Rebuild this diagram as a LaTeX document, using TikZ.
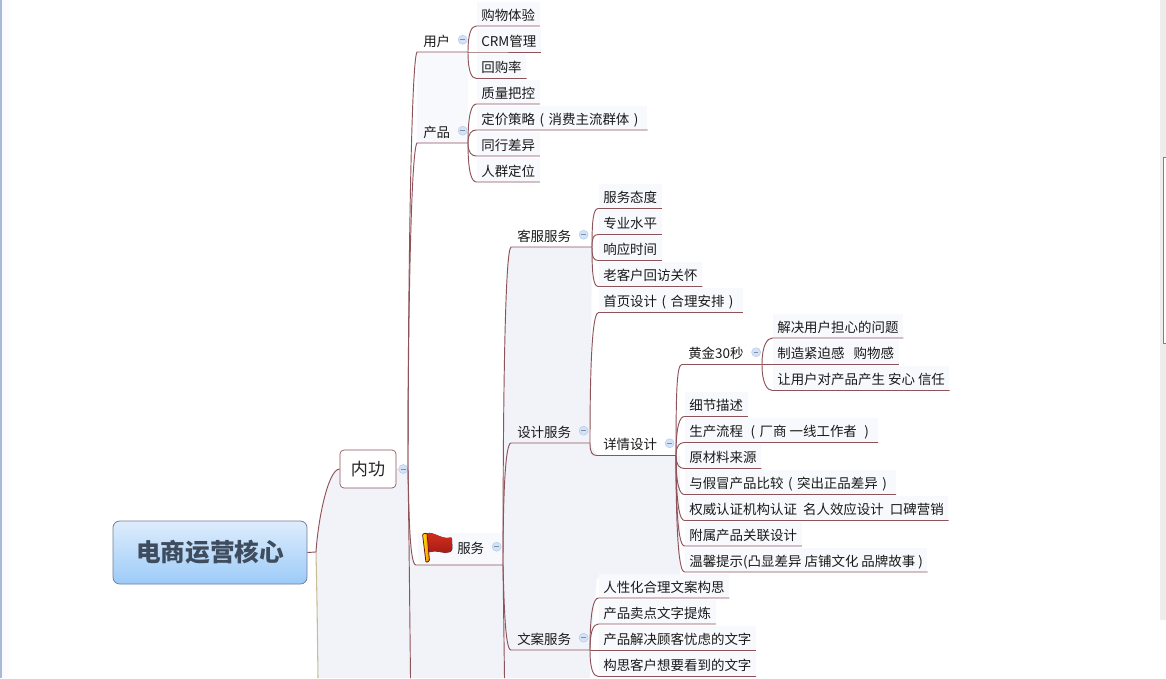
\documentclass[tikz,border=0pt]{standalone}
\usepackage{fontspec}
\setmainfont{Noto Sans CJK SC}
\usetikzlibrary{calc,positioning}
\definecolor{branchred}{HTML}{8E5259}
\definecolor{trunktan}{HTML}{C9BD94}
\definecolor{palebg}{HTML}{F1F3F9}
\definecolor{rowbg}{HTML}{F8F9FC}
\definecolor{foldblue}{HTML}{D3E2F6}
\definecolor{foldedge}{HTML}{B7CDEB}
\definecolor{roottop}{HTML}{DEEDFC}
\definecolor{rootbot}{HTML}{9CCBF8}
\definecolor{rootedge}{HTML}{6E8096}
\definecolor{rootink}{HTML}{3E4C5E}
\definecolor{flaghi}{HTML}{D8301E}
\definecolor{flaglo}{HTML}{A01A14}
\newcommand{\lpar}{\hbox to 1em{\hss(\hss}}
\newcommand{\rpar}{\hbox to 1em{\hss)\hss}}
\newcommand{\twig}[2]{\draw [branchline] (#1) .. controls ($(#1)!.75!(#1 |- #2.south west)$) and ($(#2.south west)+(-5,0)$) .. (#2.south west) -- (#2.south east);}
\tikzset{
  leaf/.style={anchor=south west, inner xsep=3.4pt, inner ysep=0pt, minimum height=18pt,
               text height=10.7pt, text depth=1pt, fill=rowbg, text=black!90,
               font=\fontsize{10.1pt}{12pt}\selectfont},
  branch/.style={leaf, inner xsep=4.5pt, fill=none},
  foldbtn/.style={circle, minimum size=6.75pt, inner sep=0pt, fill=foldblue, draw=foldedge, line width=.4pt,
                  path picture={\draw[foldedge!70!black, line width=.4pt]
                    ([xshift=1.6pt]path picture bounding box.west) -- ([xshift=-1.6pt]path picture bounding box.east);}},
  branchline/.style={draw=branchred, line width=.7pt},
}
\begin{document}
\begin{tikzpicture}[x=.75pt,y=-.75pt]
  \useasboundingbox (0,0) rectangle (1166,678);
  % window edges
  \fill [white] (0,0) rectangle (1166,678);
  \fill [left color=blue!2, right color=white] (2,0) rectangle (12,678);
  \fill [color={rgb,255:red,168;green,184;blue,214}] (0,0) rectangle (2,678);
  \fill [black!7] (1160,0) rectangle (1166,620);
  \fill [white] (1164,157) rectangle (1166,343);
  \draw [black!50, line width=.6pt] (1166,157) -- (1163,157) -- (1163,343) -- (1166,343);
  % shaded parts behind the branches
  \fill [palebg] (340,469) .. controls (328,469) and (318,520) .. (316,552) -- (318,678)
        -- (505,678) -- (503,565) -- (416,565) .. controls (410,565) and (409,520) .. (408,469) -- cycle;
  \fill [palebg] (510,247) -- (592,247) -- (590,443) -- (597,456) -- (680,456) -- (680,578) -- (597,578)
        -- (590,650) -- (590,678) -- (505,678) -- (503,565) .. controls (503,400) and (505,250) .. (510,247) -- cycle;
  \fill [rowbg] (417,52) rectangle (468,143);
  \fill [rowbg] (418,533) rectangle (503,565);

  % root and first level
  \node [rounded corners=5pt, draw=rootedge, line width=.6pt, top color=roottop, bottom color=rootbot,
         minimum width=145.5pt, minimum height=47.25pt, text=rootink,
         font=\fontsize{18.5pt}{20pt}\selectfont\bfseries] (root) at (210,552.5) {电商运营核心};
  \node [rounded corners=3pt, draw=branchred, line width=.5pt, fill=white, minimum width=42pt, minimum height=28.5pt,
         inner sep=0pt, text=black!85, font=\fontsize{12.8pt}{14pt}\selectfont] (neigong) at (368,469) {内功};
  \node [foldbtn, right=1.6pt of neigong] (neigongf) {};
  \coordinate (rootj) at (316,552);
  \coordinate (rootend) at (318,678);
  \coordinate (neigongj) at (408,469);
  \coordinate (neigongend) at (410.5,678);

  % second level
  \node [branch] (yonghu) at (417,52) {用户};
  \node [foldbtn, right=1.1pt of yonghu] (yonghuf) {};
  \coordinate (yonghuj) at (468,52);
  \node [branch] (chanpin) at (417,143) {产品};
  \node [foldbtn, right=1.1pt of chanpin] (chanpinf) {};
  \coordinate (chanpinj) at (468,143);
  \node [branch, minimum height=27pt] (fuwu) at (451,565) {服务};
  \node [foldbtn, right=1.1pt of fuwu] (fuwuf) {};
  \coordinate (fuwus) at (416,565);
  \coordinate (fuwuj) at (503,565);
  \coordinate (fuwuend) at (504.5,678);

  % third level
  \node [branch] (kefu) at (511,247) {客服服务};
  \node [foldbtn, right=1.1pt of kefu] (kefuf) {};
  \coordinate (kefuj) at (592,247);
  \node [branch] (sheji) at (511,443) {设计服务};
  \node [foldbtn, right=1.1pt of sheji] (shejif) {};
  \coordinate (shejij) at (590,443);
  \node [branch] (wenan) at (511,650) {文案服务};
  \node [foldbtn, right=1.1pt of wenan] (wenanf) {};
  \coordinate (wenanj) at (590,650);
  \node [branch] (xiangqing) at (597,455.5) {详情设计};
  \node [foldbtn, right=1.1pt of xiangqing] (xiangqingf) {};
  \coordinate (xiangqingj) at (676,455.5);
  \node [branch] (huangjin) at (682,364.5) {黄金30秒};
  \node [foldbtn, right=1.1pt of huangjin] (huangjinf) {};
  \coordinate (huangjinj) at (762,364.5);

  % leaves
  \foreach \nm/\py/\txt in {gouwu/26/购物体验, crm/52/CRM管理, huigou/78.5/回购率,
                            zhiliang/104/质量把控, dingjia/130/定价策略\lpar 消费主流群体\rpar,
                            tonghang/156/同行差异, renqun/182/人群定位}
    \node [leaf] (\nm) at (476.5,\py) {\txt};
  \foreach \nm/\py/\txt in {taidu/208.5/服务态度, shuiping/234.5/专业水平, xiangying/260.5/响应时间,
                            huifang/286.5/老客户回访关怀, shouye/312.5/首页设计\lpar 合理安排\rpar,
                            gouxiang/598/人性化合理文案构思, maidian/624/产品卖点文字提炼,
                            youlv/650/产品解决顾客忧虑的文字, xiangkan/676.5/构思客户想要看到的文字}
    \node [leaf] (\nm) at (598.5,\py) {\txt};
  \foreach \nm/\py/\txt in {xijie/416.5/细节描述, liucheng/442.5/生产流程~\lpar 厂商 一线工作者~\rpar, yuanliao/468.5/原材料来源,
                            jiamao/494.5/与假冒产品比较\lpar 突出正品差异\rpar, quanwei/520.5/权威认证机构认证~~名人效应设计~~口碑营销,
                            fushu/546/附属产品关联设计, wenxin/572/温馨提示(凸显差异 店铺文化 品牌故事 )}
    \node [leaf] (\nm) at (684.5,\py) {\txt};
  \foreach \nm/\py/\txt in {danxin/338/解决用户担心的问题, jinpo/364.5/制造紧迫感~~~购物感, anxin/390.5/让用户对产品产生 安心 信任}
    \node [leaf] (\nm) at (772.5,\py) {\txt};

  % connectors
  \draw [branchline] (root.east) -- (rootj) .. controls (318,520) and (328,469) .. (neigong.west);
  \draw [draw=trunktan, line width=.8pt] (rootj) .. controls (317,600) .. (rootend);
  \draw [branchline, foldedge] (neigong.east) -- (neigongf.west);
  \draw [branchline] (neigongf.east) -- (neigongj);
  \draw [branchline] (neigongj) .. controls (408,300) and (411,60) .. (yonghu.south west) -- (yonghuj);
  \draw [branchline] (neigongj) .. controls (408,320) and (411,150) .. (chanpin.south west) -- (chanpinj);
  \draw [branchline] (neigongj) .. controls (409,520) and (410,565) .. (fuwus) -- (fuwuj);
  \draw [branchline] (neigongj) .. controls (409,540) .. (neigongend);
  \draw [branchline] (fuwuj) .. controls (503,400) and (505,250) .. (kefu.south west) -- (kefuj);
  \draw [branchline] (fuwuj) .. controls (503,500) and (505,443) .. (sheji.south west) -- (shejij);
  \draw [branchline] (fuwuj) .. controls (504,600) and (505,650) .. (wenan.south west) -- (wenanj);
  \draw [branchline] (fuwuj) -- (fuwuend);
  \twig{shejij}{xiangqing}
  \draw [branchline] (xiangqing.south east) -- (xiangqingj);
  \twig{xiangqingj}{huangjin}
  \draw [branchline] (huangjin.south east) -- (huangjinj);
  \foreach \nm in {gouwu,crm,huigou} {\twig{yonghuj}{\nm}}
  \foreach \nm in {zhiliang,dingjia,tonghang,renqun} {\twig{chanpinj}{\nm}}
  \foreach \nm in {taidu,shuiping,xiangying,huifang} {\twig{kefuj}{\nm}}
  \twig{shejij}{shouye}
  \foreach \nm in {xijie,liucheng,yuanliao,jiamao,quanwei,fushu,wenxin} {\twig{xiangqingj}{\nm}}
  \foreach \nm in {danxin,jinpo,anxin} {\twig{huangjinj}{\nm}}
  \foreach \nm in {gouxiang,maidian,youlv,xiangkan} {\twig{wenanj}{\nm}}

  % flag
  \fill [top color=flaghi, bottom color=flaglo, rounded corners=1.5pt]
        (425,534) .. controls (433,531) and (442,540) .. (452,537) -- (452.5,551)
        .. controls (444,555) and (436,549) .. (428,553) -- cycle;
  \draw [flaglo!70!black, left color=yellow!85!orange, right color=orange, line width=.6pt, rounded corners=.8pt]
        (422.5,534) -- (427,533) -- (429.5,561) -- (426,562.5) -- cycle;
\end{tikzpicture}
\end{document}
